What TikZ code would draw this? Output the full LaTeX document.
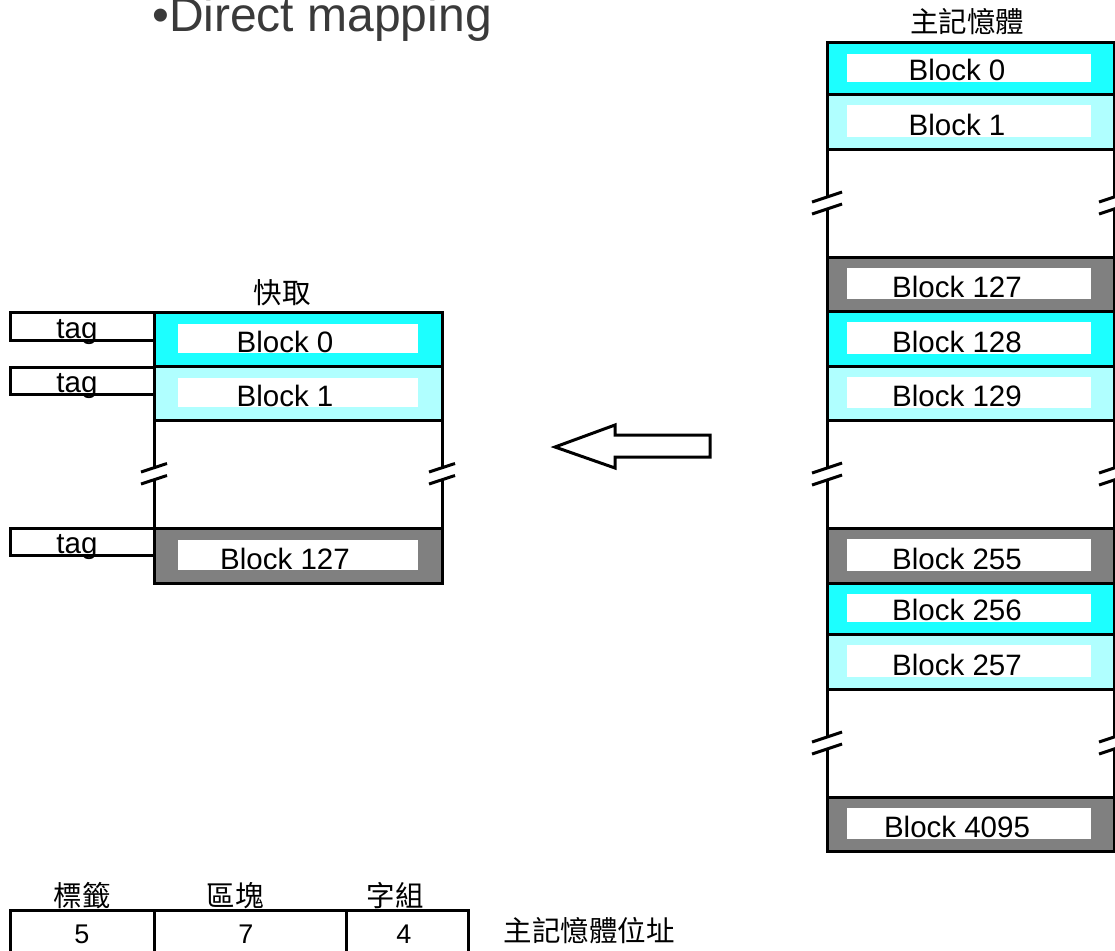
\documentclass[tikz,border=0pt]{standalone}
\usepackage{fontspec}
\setmainfont{Liberation Sans}
\newfontfamily\cjk{Noto Sans CJK TC}
\usepackage{tikz}
\usetikzlibrary{positioning}
\definecolor{hotcyan}{HTML}{1CFFFF}
\definecolor{palecyan}{HTML}{B0FFFF}
\definecolor{darkgrey}{HTML}{808080}
\definecolor{titlegrey}{HTML}{3A3A3A}
\tikzstyle{blockbox} = [draw=black, line width=3pt]
\tikzstyle{innerbox} = [fill=white]
\tikzstyle{sideline} = [line width=3pt]
\tikzstyle{slashline} = [line width=3pt]
\tikzstyle{tagbox} = [draw=black, line width=3pt, fill=white]
\tikzstyle{blocklabel} = [anchor=base, inner sep=0pt, font=\fontsize{29.5}{31}\selectfont]
\tikzstyle{cjklabel} = [anchor=base, inner sep=0pt, font=\fontsize{28.5}{30}\selectfont\cjk]
\tikzstyle{digitlabel} = [anchor=base, inner sep=0pt, font=\fontsize{27}{29}\selectfont]

\begin{document}
\begin{tikzpicture}[x=1pt, y=-1pt]
    \useasboundingbox (0,0) rectangle (1115,950);

    \node (title) [anchor=base west, inner sep=0pt, text=titlegrey, font=\fontsize{48}{50}\selectfont] at (152,32) {•Direct mapping};

    % main memory
    \node (memhead) [cjklabel] at (967,33) {主記憶體};
    \foreach \ya/\yb/\col/\lbl in {43/94/hotcyan/0, 94/149/palecyan/1, 257/311/darkgrey/127, 311/366/hotcyan/128, 366/420/palecyan/129, 528/583/darkgrey/255, 583/634/hotcyan/256, 634/689/palecyan/257, 797/851/darkgrey/4095} {
        \filldraw [blockbox, fill=\col] (827,\ya) rectangle (1114,\yb);
        \fill [innerbox] (847,\ya+11) rectangle (1091,\yb-12);
        \node (mem\lbl) [blocklabel] at (957,\yb-14) {Block \lbl};
    }
    \foreach \ya/\yb in {149/257, 420/528, 689/797} {
        \pgfmathsetmacro{\yc}{(\ya+\yb)/2}
        \foreach \xs in {827,1114} {
            \draw [sideline] (\xs,\ya) -- (\xs,\yc-6);
            \draw [sideline] (\xs,\yc+6) -- (\xs,\yb);
            \draw [slashline] (\xs-15,\yc-1) -- (\xs+15,\yc-11);
            \draw [slashline] (\xs-15,\yc+11) -- (\xs+15,\yc+1);
        }
    }

    % cache
    \node (cachehead) [cjklabel] at (282,303) {快取};
    \foreach \ya/\yb/\col/\lbl in {312/366/hotcyan/0, 366/420/palecyan/1, 528/583/darkgrey/127} {
        \filldraw [blockbox, fill=\col] (154,\ya) rectangle (442,\yb);
        \fill [innerbox] (178,\ya+12) rectangle (418,\yb-13);
        \node (cache\lbl) [blocklabel] at (285,\yb-14) {Block \lbl};
    }
    \pgfmathsetmacro{\yc}{474}
    \foreach \xs in {154,442} {
        \draw [sideline] (\xs,420) -- (\xs,\yc-6);
        \draw [sideline] (\xs,\yc+6) -- (\xs,528);
        \draw [slashline] (\xs-13,\yc-2) -- (\xs+13,\yc-10.5);
        \draw [slashline] (\xs-13,\yc+10) -- (\xs+13,\yc+1.5);
    }

    % tags
    \foreach \ya/\yb/\nm in {312/340/0, 367/394/1, 528/555/127} {
        \draw [tagbox] (10,\ya) rectangle (154,\yb);
        \node (tag\nm) [blocklabel] at (77,\yb-2) {tag};
    }

    % hollow arrow
    \draw [line width=3pt, line join=miter] (555,447) -- (615,425) -- (615,435) -- (710,435) -- (710,457) -- (615,457) -- (615,468) -- cycle;

    % address fields
    \draw [line width=3pt] (10,960) -- (10,910) -- (468,910) -- (468,960);
    \draw [line width=3pt] (154,910) -- (154,960);
    \draw [line width=3pt] (346,910) -- (346,960);
    \node (tagfield) [cjklabel] at (82,906) {標籤};
    \node (blkfield) [cjklabel] at (235,906) {區塊};
    \node (wordfield) [cjklabel] at (395,906) {字組};
    \node (tagbits) [digitlabel] at (82,943) {5};
    \node (blkbits) [digitlabel] at (246,943) {7};
    \node (wordbits) [digitlabel] at (404,943) {4};
    \node (addrlabel) [cjklabel] at (589,941) {主記憶體位址};
\end{tikzpicture}
\end{document}
